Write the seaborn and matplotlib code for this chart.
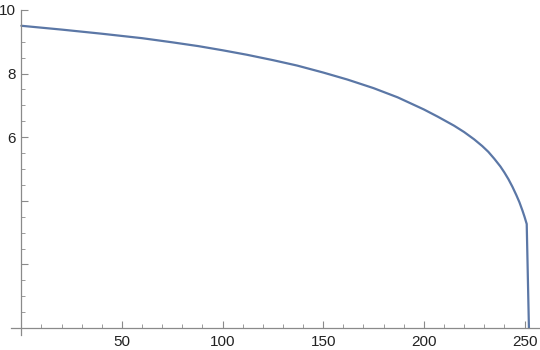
import matplotlib
matplotlib.use("Agg")
import matplotlib.pyplot as plt
import seaborn as sns
import pandas as pd
from matplotlib.ticker import FixedLocator

# data
x_vals = [0, 20, 40, 60, 75, 88, 100, 112, 125, 137, 150, 162, 175, 187, 200,
          207, 215, 220, 225, 229, 232, 235, 238, 240, 242, 244, 246, 247.5,
          249, 250, 251.1, 252.2]
y_vals = [9.50, 9.38, 9.25, 9.11, 8.98, 8.86, 8.73, 8.59, 8.42, 8.25, 8.03,
          7.81, 7.54, 7.25, 6.87, 6.64, 6.36, 6.16, 5.93, 5.72, 5.54, 5.32,
          5.08, 4.89, 4.68, 4.44, 4.17, 3.95, 3.69, 3.50, 3.27, 0.0]
x_major = [50, 100, 150, 200, 250]
x_minor = [10, 20, 30, 40, 60, 70, 80, 90, 110, 120, 130, 140, 160, 170, 180,
           190, 210, 220, 230, 240]
y_major = [2, 4, 6, 8, 10]
y_minor = [0.5, 1, 1.5, 2.5, 3, 3.5, 4.5, 5, 5.5, 6.5, 7, 7.5, 8.5, 9, 9.5]
y_labels = ["", "", "6", "8", "10"]

sns.set_style("white")
plt.rcParams['font.family'] = ['Liberation Sans', 'DejaVu Sans']

df = pd.DataFrame({"x": x_vals, "y": y_vals})

fig = plt.figure(figsize=(5.4, 3.5), dpi=100)
ax = fig.add_axes([0, 0, 1, 1])
ax.set_facecolor("white")

sns.lineplot(data=df, x="x", y="y", sort=False, estimator=None,
             color="#5B77A6", linewidth=1.6, ax=ax)

ax.set_xlim(-10.6, 257.7)
ax.set_ylim(-0.69, 10.31)
ax.set_xlabel("")
ax.set_ylabel("")

for s in ["top", "right"]:
    ax.spines[s].set_visible(False)
axis_col = "#8a8a8a"
ax.spines["left"].set_position(("data", 0))
ax.spines["bottom"].set_position(("data", 0))
ax.spines["left"].set_bounds(-0.22, 10)
ax.spines["bottom"].set_bounds(-5.2, 257.7)
for s in ["left", "bottom"]:
    ax.spines[s].set_color(axis_col)
    ax.spines[s].set_linewidth(0.9)

ax.xaxis.set_major_locator(FixedLocator(x_major))
ax.xaxis.set_minor_locator(FixedLocator(x_minor))
ax.yaxis.set_major_locator(FixedLocator(y_major))
ax.yaxis.set_minor_locator(FixedLocator(y_minor))
ax.set_yticklabels(y_labels)

ax.tick_params(axis="both", which="both", direction="in", color=axis_col,
               labelsize=11, labelcolor="#222222")
ax.tick_params(axis="both", which="major", length=5, width=0.8)
ax.tick_params(axis="both", which="minor", length=2.8, width=0.6)
ax.tick_params(axis="x", which="major", pad=5)
ax.tick_params(axis="y", which="major", pad=4)
ax.tick_params(left=True, bottom=True, which="both")

fig.savefig("out.png", dpi=100, facecolor="white")
